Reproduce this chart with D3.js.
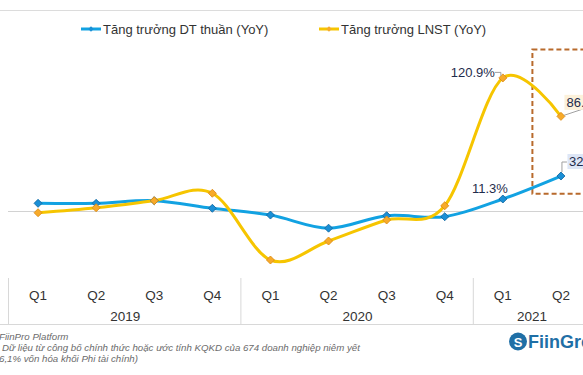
<!DOCTYPE html>
<html>
<head>
<meta charset="utf-8">
<script src="https://cdn.jsdelivr.net/npm/d3@7"></script>
<style>
  body { margin: 0; background: #fff; }
  svg { display: block; font-family: "Liberation Sans", Arial, sans-serif; }
</style>
</head>
<body>
<svg id="chart"></svg>
<script>
// quarters and years on the x axis
var quarters = ["Q1","Q2","Q3","Q4","Q1","Q2","Q3","Q4","Q1","Q2"]
var years = ["2019","2020","2021"]
var yearSpan = [4,4,2]
var keys = quarters.map(function(q,i){ return q+"-"+i })

// YoY growth, %
var revenue = [7.4, 7.4, 9.8, 2.9, -3.2, -15.1, -3.8, -4.7, 11.3, 32.1]
var profit  = [-1.1, 3.4, 9.8, 16.5, -43.9, -26.7, -7.7, 5.2, 120.9, 86.1]

var seriesNames = ["Tăng trưởng DT thuần (YoY)", "Tăng trưởng LNST (YoY)"]

var footer = [
  "FiinPro Platform",
  "Dữ liệu từ công bố chính thức hoặc ước tính KQKD của 674 doanh nghiệp niêm yết",
  "6,1% vốn hóa khối Phi tài chính)"
]

var screen = {width:583, height:375}

var svg = d3.select("#chart")
  .attr("width", screen.width)
  .attr("height", screen.height)

var xScale = d3.scaleBand()
  .domain(keys)
  .range([9, 590])
  .padding(0)

var yScale = d3.scaleLinear()
  .domain([-50, 130])
  .range([266.75, 67.85])

var cx = function(i){ return xScale(keys[i]) + xScale.bandwidth()/2 }

// top rule
svg.append("line")
  .attr("x1",0).attr("x2",screen.width)
  .attr("y1",10.5).attr("y2",10.5)
  .attr("stroke","#dcdcdc")

// zero line
svg.append("line")
  .attr("x1",8).attr("x2",screen.width)
  .attr("y1",yScale(0)).attr("y2",yScale(0))
  .attr("stroke","#d2d2d2")

// highlight box round the last quarter
var boxX = xScale(keys[9]) + 0.5
svg.append("rect")
  .attr("x", boxX)
  .attr("y", yScale(146.5))
  .attr("width", 80)
  .attr("height", yScale(16) - yScale(146.5))
  .attr("fill","none")
  .attr("stroke","#b86a2c")
  .attr("stroke-width",2)
  .attr("stroke-dasharray","5,3")

var line = d3.line()
  .x(function(d,i){ return cx(i) })
  .y(function(d){ return yScale(d) })
  .curve(d3.curveCardinal.tension(0))

var styles = [
  {data: revenue, line:"#12a2e2", fill:"#1a8fd6", stroke:"#10679f"},
  {data: profit,  line:"#f6c500", fill:"#f7aa2a", stroke:"#dc8a12"}
]

var diamond = d3.symbol().type(d3.symbolSquare).size(32)

;[0,1].forEach(function(s){
  var st = styles[s]
  svg.append("path")
    .datum(st.data)
    .attr("d", line)
    .attr("fill","none")
    .attr("stroke", st.line)
    .attr("stroke-width", 3)
})
;[0,1].forEach(function(s){
  var st = styles[s]
  svg.append("g").selectAll("path")
    .data(st.data)
    .enter()
    .append("path")
    .attr("d", diamond)
    .attr("transform", function(d,i){
      return "translate("+cx(i)+","+yScale(d)+") rotate(45)"
    })
    .attr("fill", st.fill)
    .attr("stroke", st.stroke)
    .attr("stroke-width", 0.8)
})

// data labels
var labels = svg.append("g")
  .attr("font-size", 13)
  .attr("fill", "#1f2c4c")

// 120.9%
var p8 = {x: cx(8), y: yScale(profit[8])}
labels.append("path")
  .attr("d","M"+(p8.x-8)+","+(p8.y-5.5)+"H"+(p8.x-2)+"V"+(p8.y-2))
  .attr("fill","none").attr("stroke","#a0a0a0")
labels.append("text")
  .attr("x", p8.x-8).attr("y", p8.y-1)
  .attr("text-anchor","end")
  .text(profit[8].toFixed(1)+"%")

// 11.3%
var r8 = {x: cx(8), y: yScale(revenue[8])}
labels.append("text")
  .attr("x", r8.x+5).attr("y", r8.y-6)
  .attr("text-anchor","end")
  .text(revenue[8].toFixed(1)+"%")

// 86.x% boxed
var p9 = {x: cx(9), y: yScale(profit[9])}
labels.append("line")
  .attr("x1",p9.x+3).attr("y1",p9.y-1)
  .attr("x2",p9.x+24).attr("y2",p9.y-8)
  .attr("stroke","#a0a0a0")
labels.append("rect")
  .attr("x", p9.x+3.5).attr("y", p9.y-21.5)
  .attr("width",40).attr("height",15)
  .attr("fill","#fcf1da")
labels.append("text")
  .attr("x", p9.x+5.5).attr("y", p9.y-9.5)
  .text(profit[9].toFixed(1)+"%")

// 32.x% boxed
var r9 = {x: cx(9), y: yScale(revenue[9])}
labels.append("path")
  .attr("d","M"+(r9.x+1)+","+(r9.y-4)+"V"+(r9.y-14)+"H"+(r9.x+6))
  .attr("fill","none").attr("stroke","#a0a0a0")
labels.append("rect")
  .attr("x", r9.x+6.5).attr("y", r9.y-22)
  .attr("width",40).attr("height",15)
  .attr("fill","#dde6f6")
labels.append("text")
  .attr("x", r9.x+8).attr("y", r9.y-10)
  .text(revenue[9].toFixed(1)+"%")

// legend
var legend = svg.append("g").attr("font-size",13).attr("fill","#333")
var legendX = [81, 319]
seriesNames.forEach(function(name,s){
  var g = legend.append("g").attr("transform","translate("+legendX[s]+",29)")
  g.append("line").attr("x1",0).attr("x2",20).attr("y1",0).attr("y2",0)
    .attr("stroke",styles[s].line).attr("stroke-width",3)
  g.append("path").attr("d", d3.symbol().type(d3.symbolSquare).size(14))
    .attr("transform","translate(10,0) rotate(45)")
    .attr("fill",styles[s].fill)
  g.append("text").attr("x",22).attr("y",4.5).text(name)
})

// x axis: quarters
var xAxis = d3.axisBottom(xScale)
  .tickSize(0)
  .tickFormat(function(k){ return k.split("-")[0] })
var axisG = svg.append("g")
  .attr("transform","translate(0,287)")
  .call(xAxis)
axisG.select(".domain").remove()
axisG.selectAll("text")
  .attr("font-size",13.5)
  .attr("font-family","'Liberation Sans', Arial, sans-serif")
  .attr("fill","#333")

// year groups and separators
var start = 0
var sep = svg.append("g").attr("stroke","#d8d8d8")
years.forEach(function(y,j){
  var x0 = xScale(keys[start])
  var x1 = xScale(keys[start+yearSpan[j]-1]) + xScale.bandwidth()
  sep.append("line").attr("x1",x0-0.5).attr("x2",x0-0.5)
    .attr("y1",278).attr("y2",324)
  svg.append("text")
    .attr("x",(x0+x1)/2).attr("y",321)
    .attr("text-anchor","middle")
    .attr("font-size",13.5).attr("fill","#333")
    .text(y)
  start += yearSpan[j]
})
sep.append("line").attr("x1",0).attr("x2",screen.width)
  .attr("y1",324.5).attr("y2",324.5)

// footer notes
var foot = svg.append("g")
  .attr("font-size",9.7).attr("font-style","italic").attr("fill","#6b6b6b")
var footX = [-1, 2, -1]
footer.forEach(function(t,i){
  foot.append("text").attr("x",footX[i]).attr("y",340+i*11).text(t)
})

// logo
var logo = svg.append("g")
logo.append("circle").attr("cx",518).attr("cy",341.5).attr("r",9).attr("fill","#1f6fa6")
logo.append("text").attr("x",518).attr("y",346.5).attr("text-anchor","middle")
  .attr("font-size",13).attr("font-weight","bold").attr("fill","#fff").text("S")
logo.append("text").attr("x",528).attr("y",348)
  .attr("font-size",18).attr("font-weight","bold").attr("fill","#1f6fa6")
  .text("FiinGroup")
</script>
</body>
</html>
